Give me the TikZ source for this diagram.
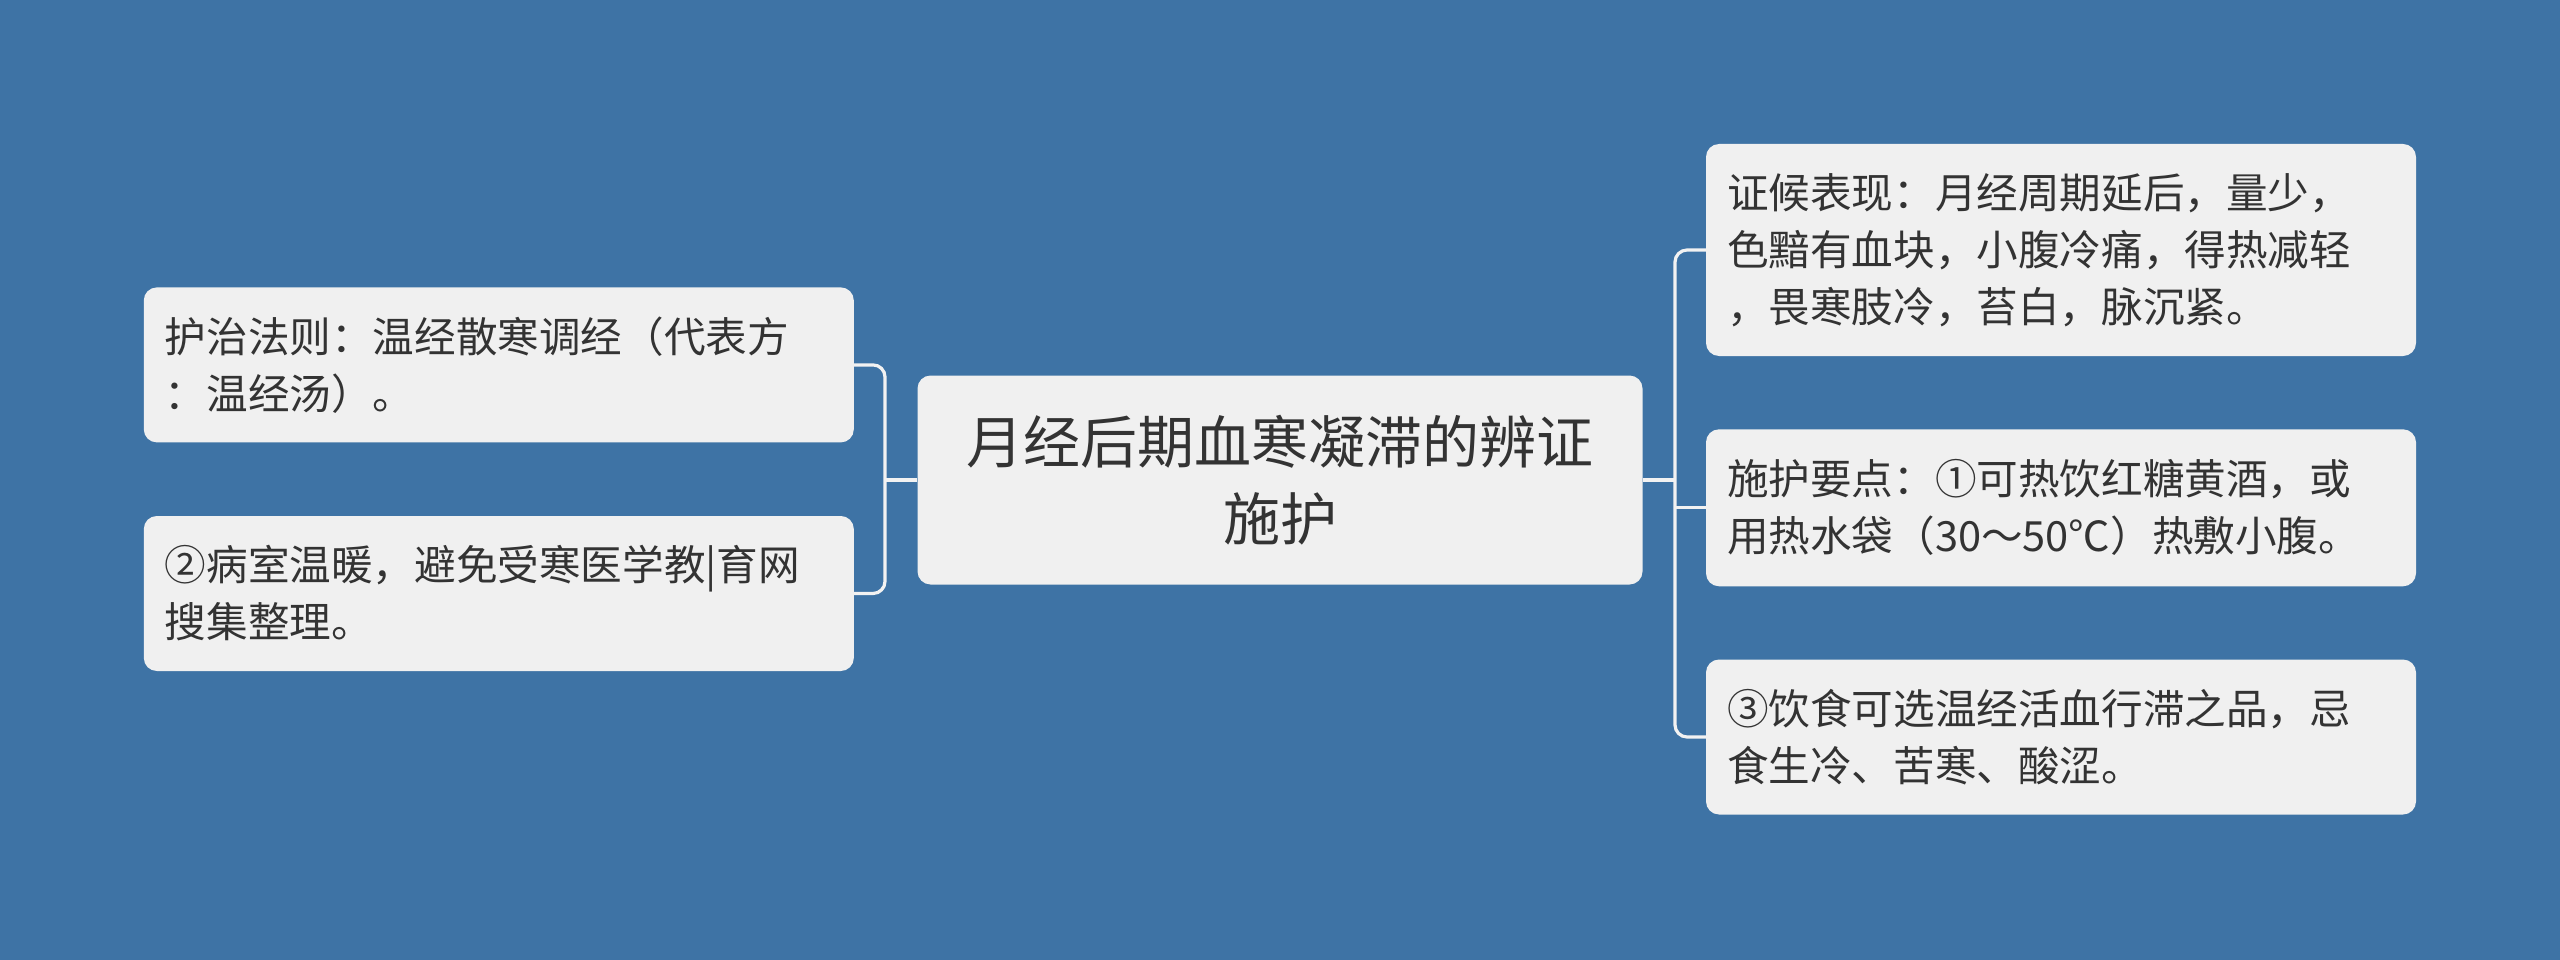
\documentclass[tikz,border=0pt]{standalone}
\usepackage{fontspec}
\setmainfont{Noto Sans CJK SC}
\definecolor{bg}{HTML}{3E73A5}
\definecolor{boxfill}{HTML}{F0F0F0}
\definecolor{txt}{HTML}{333333}
\definecolor{wire}{HTML}{F2F2F2}
\tikzset{
  leaf/.style={fill=boxfill, rounded corners=13pt, text=txt, align=left,
    text width=668pt, inner xsep=21pt, inner ysep=0pt, minimum width=710pt,
    font=\fontsize{41.6pt}{57pt}\selectfont},
  root/.style={fill=boxfill, rounded corners=13pt, text=txt, align=center,
    text width=700pt, inner sep=0pt, minimum width=725pt, minimum height=209pt,
    font=\fontsize{57pt}{77pt}\selectfont},
  wirestyle/.style={draw=wire, line width=3.2pt, rounded corners=12pt}
}
\begin{document}
\begin{tikzpicture}[x=1pt,y=1pt]
\fill[bg] (0,0) rectangle (2560,-960);
\useasboundingbox (0,0) rectangle (2560,-960);

\node[root] (c) at (1280,-480) {月经后期血寒凝滞的辨证\\施护};

\node[leaf, minimum height=155pt] (l1) at (498.8,-364.9) {护治法则：温经散寒调经（代表方\\：温经汤）。};
\node[leaf, minimum height=155pt] (l2) at (498.8,-593.5) {②病室温暖，避免受寒医学教|育网\\搜集整理。};

\node[leaf, minimum height=212pt] (r1) at (2061,-250) {证候表现：月经周期延后，量少，\\色黯有血块，小腹冷痛，得热减轻\\，畏寒肢冷，苔白，脉沉紧。};
\node[leaf, minimum height=157pt] (r2) at (2061,-507.8) {施护要点：①可热饮红糖黄酒，或\\用热水袋（30～50℃）热敷小腹。};
\node[leaf, minimum height=155pt] (r3) at (2061,-737) {③饮食可选温经活血行滞之品，忌\\食生冷、苦寒、酸涩。};

\coordinate (lj) at (885,-480);
\coordinate (rj) at (1675,-480);

\draw[wirestyle] (c.west) -- (lj);
\draw[wirestyle] (l1.east) -- (l1.east -| lj) -- (l2.east -| lj) -- (l2.east);

\draw[wirestyle] (c.east) -- (rj);
\draw[wirestyle] (r1.west) -- (r1.west -| rj) -- (r3.west -| rj) -- (r3.west);
\draw[wirestyle] (r2.west -| rj) -- (r2.west);
\end{tikzpicture}
\end{document}
